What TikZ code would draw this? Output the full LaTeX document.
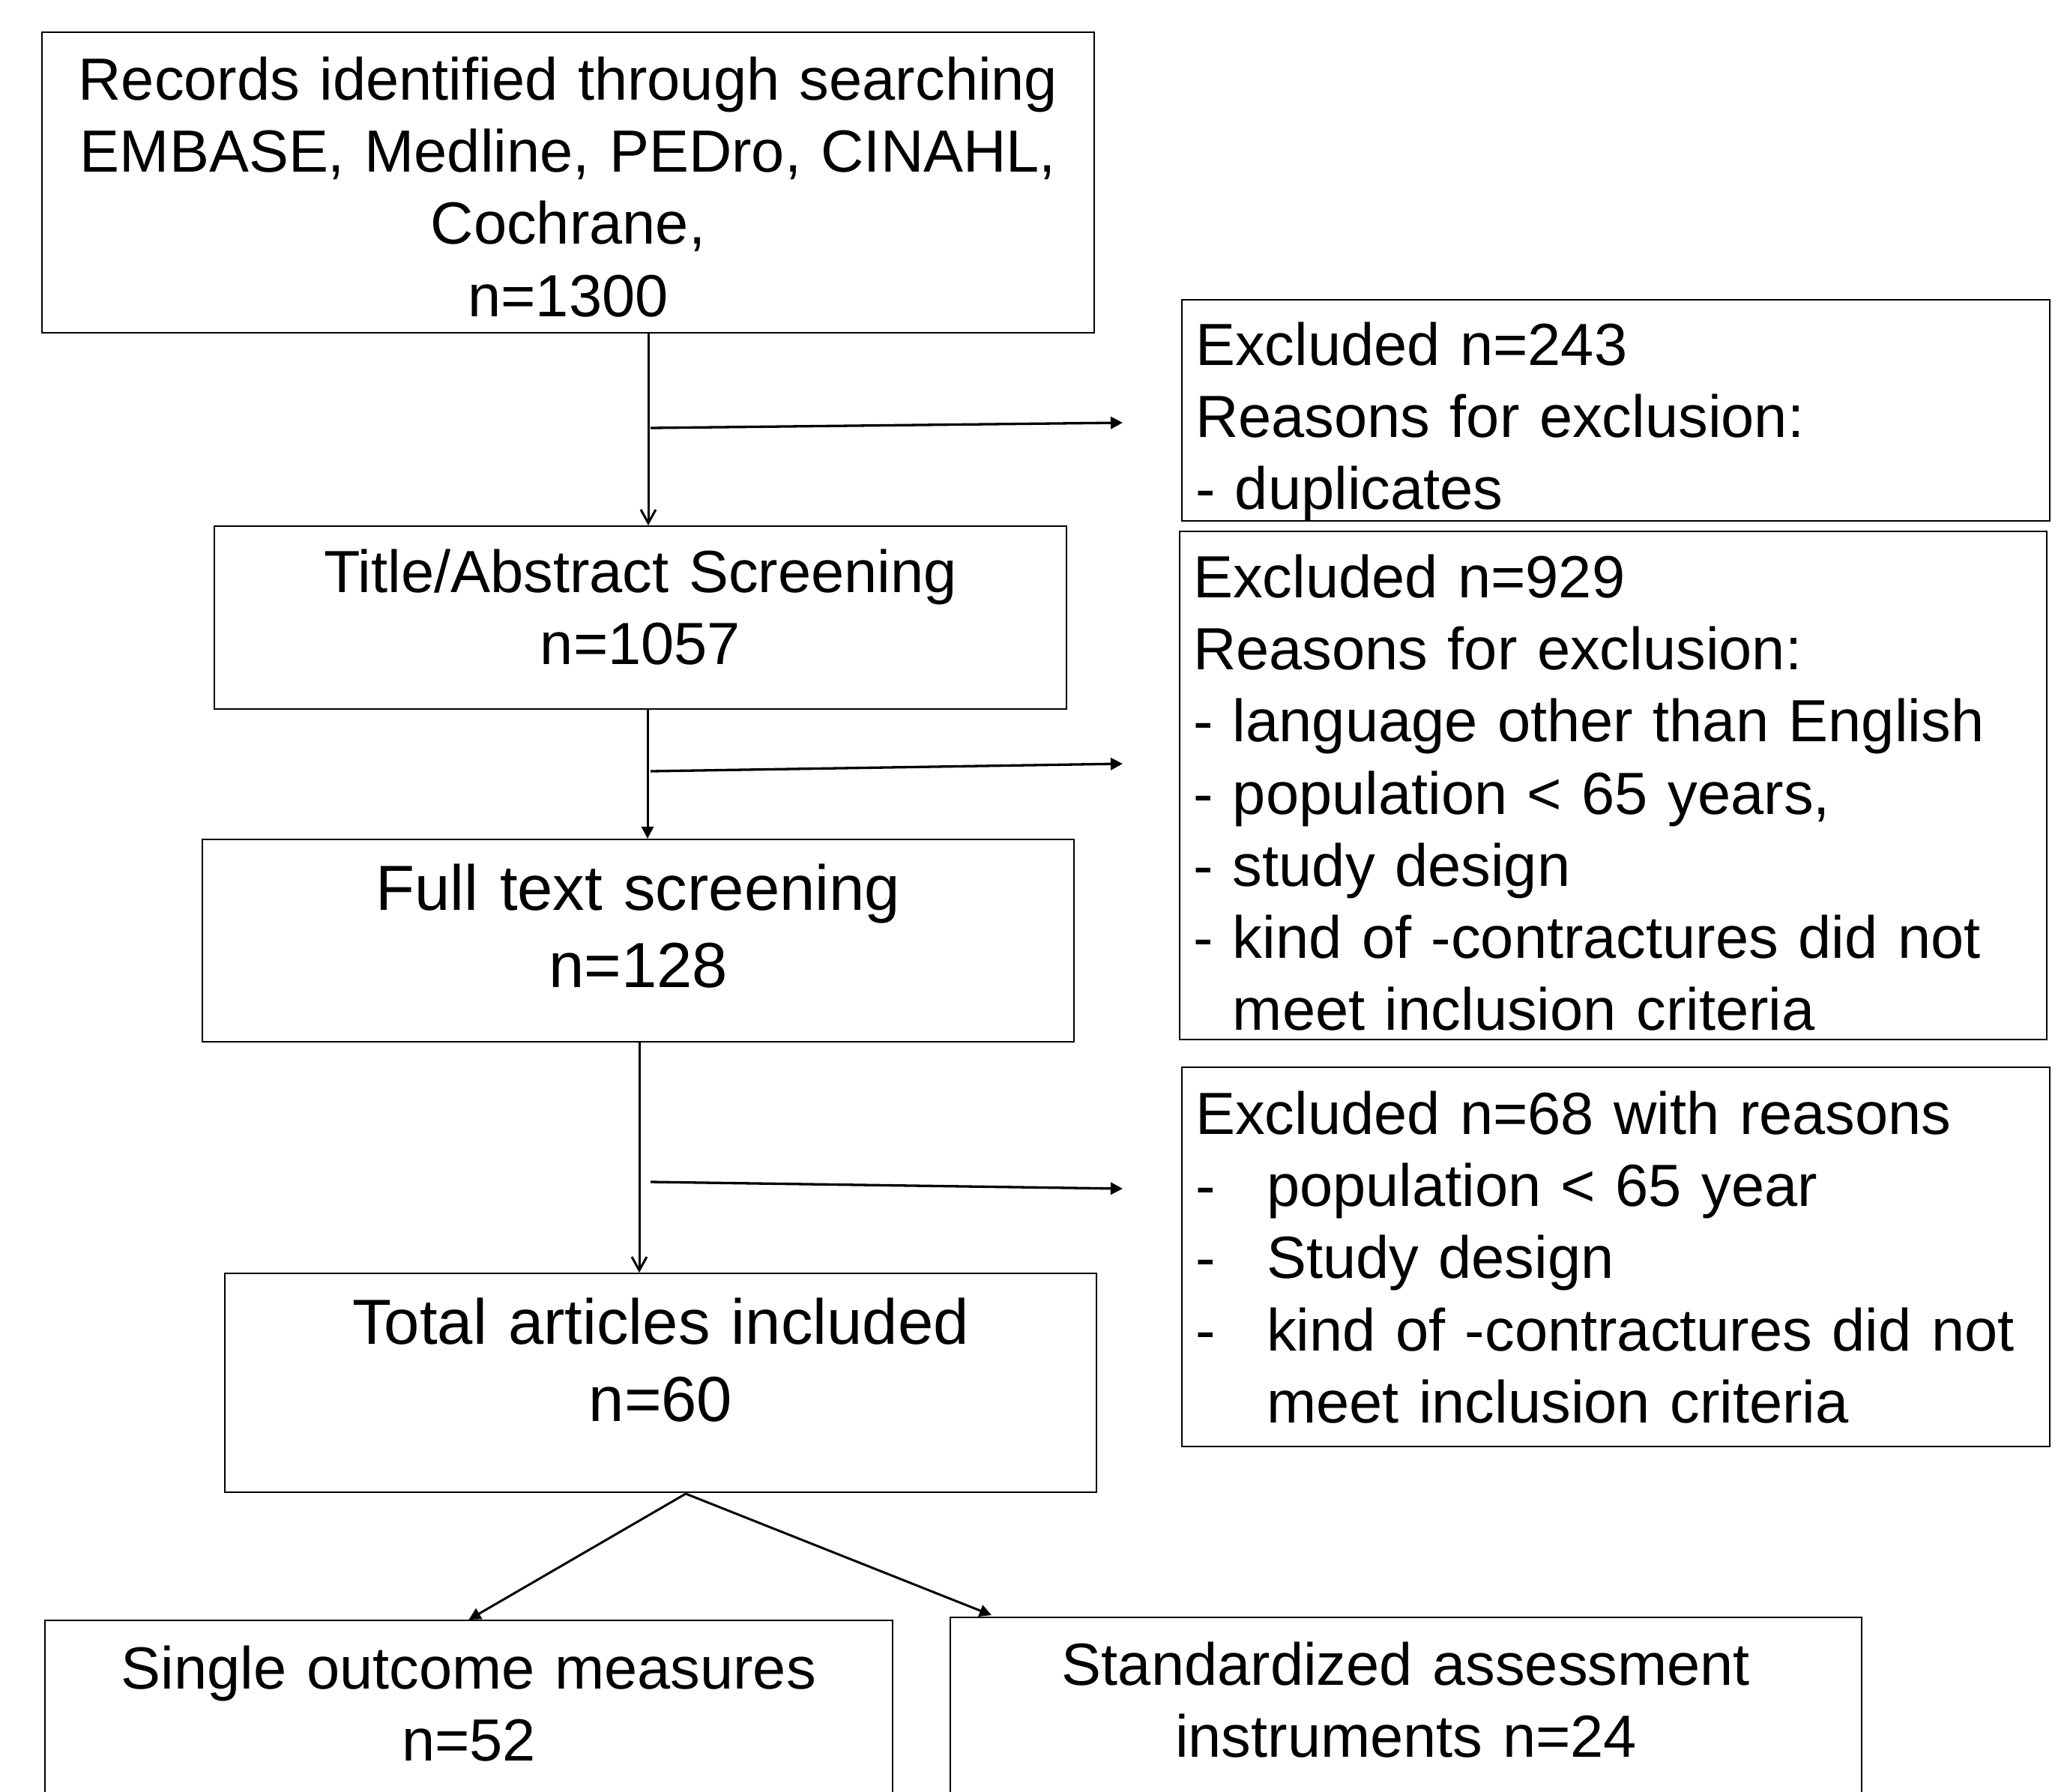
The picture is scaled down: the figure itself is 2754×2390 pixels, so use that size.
\documentclass[tikz,border=0pt]{standalone}
\usepackage{fontspec}
\setmainfont{Liberation Sans}
\usetikzlibrary{calc,arrows.meta}

\newcommand{\dashitem}[1]{\makebox[9.5mm][l]{-}#1}

\begin{document}
\begin{tikzpicture}[x=0.1mm,y=-0.1mm,
  box/.style={draw,line width=0.22mm,inner xsep=1.8mm,inner ysep=0pt,anchor=north,
    align=center,font=\fontsize{22.6}{27.4}\selectfont},
  bigbox/.style={box,font=\fontsize{24.2}{29.4}\selectfont},
  leftbox/.style={box,align=left},
  open/.style={line width=0.3mm,-{Straight Barb[length=1.8mm,width=2mm]}},
  solid/.style={line width=0.3mm,-{Triangle[length=1.6mm,width=1.6mm]}},
  side/.style={line width=0.33mm,-{Triangle[length=1.6mm,width=1.6mm]}}]

  \useasboundingbox (0,0) rectangle (2754,2390);
  \clip (0,0) rectangle (2754,2390);

  \node[box,text width=136.8mm,text height=9mm,text depth=31.1mm] (rec) at (758,42)
    {Records identified through searching\\EMBASE, Medline, PEDro, CINAHL,\\Cochrane,\\n=1300};
  \node[box,text width=110.1mm,text height=8.8mm,text depth=15.6mm] (title) at (854.5,701)
    {Title/Abstract Screening\\n=1057};
  \node[bigbox,text width=112.7mm,text height=9.4mm,text depth=17.6mm] (full) at (851.5,1119)
    {Full text screening\\n=128};
  \node[bigbox,text width=112.7mm,text height=9.4mm,text depth=19.8mm] (total) at (881.5,1698)
    {Total articles included\\n=60};

  \node[leftbox,text width=112.2mm,text height=8.7mm,text depth=20.8mm] (excl1) at (2156,399)
    {Excluded n=243\\Reasons for exclusion:\\- duplicates};
  \node[leftbox,text width=112.1mm,text height=8.8mm,text depth=59mm] (excl2) at (2152.5,708)
    {Excluded n=929\\Reasons for exclusion:\\- language other than English\\- population < 65 years,\\- study design\\- kind of -contractures did not\\\hphantom{- }meet inclusion criteria};
  \node[leftbox,text width=112.2mm,text height=8.9mm,text depth=41.7mm] (excl3) at (2156,1423)
    {Excluded n=68 with reasons\\\dashitem{population < 65 year}\\\dashitem{Study design}\\\dashitem{kind of -contractures did not}\\\hspace*{9.5mm}meet inclusion criteria};

  \node[box,text width=109.5mm,text height=9.1mm,text depth=40mm] (single) at (625.5,2161)
    {Single outcome measures\\n=52};
  \node[box,text width=118mm,text height=9mm,text depth=40mm] (std) at (1876,2157)
    {Standardized assessment\\instruments n=24};

  \coordinate (v1) at (865,0);
  \coordinate (v2) at (864,0);
  \coordinate (v3) at (853,0);
  \draw[open] (rec.south -| v1) -- (title.north -| v1);
  \draw[solid] (title.south -| v2) -- (full.north -| v2);
  \draw[open] (full.south -| v3) -- (total.north -| v3);

  \foreach \i/\ya/\yb in {1/571/564,2/1029/1019,3/1577/1586} {
    \coordinate (from\i) at (868,\ya);
    \coordinate (to\i) at (1498,\yb);
    \draw[side] (from\i) -- (to\i);
  }

  \coordinate (split) at (915,1993);
  \coordinate (tip) at (1323,2155);
  \draw[solid] (split) -- (single.north);
  \draw[solid] (split) -- (tip);
\end{tikzpicture}
\end{document}
